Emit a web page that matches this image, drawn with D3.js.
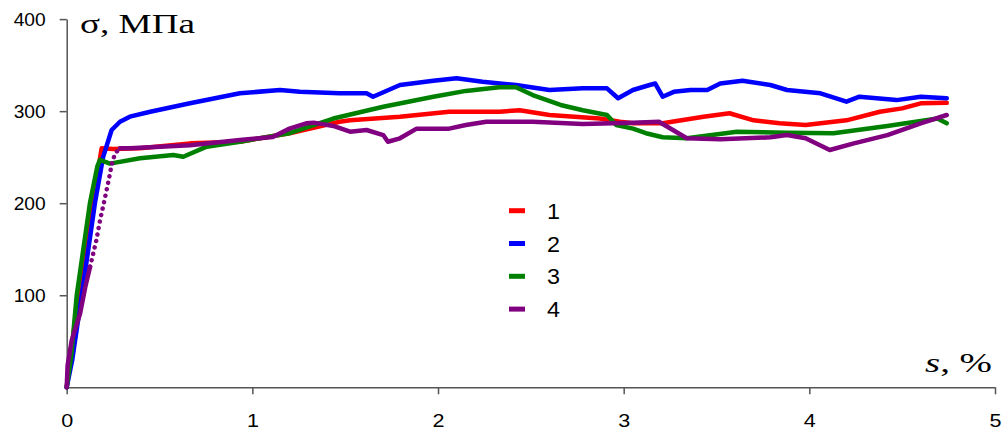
<!DOCTYPE html>
<html><head><meta charset="utf-8">
<script src="https://cdn.jsdelivr.net/npm/d3@7"></script>
<style>html,body{margin:0;padding:0;background:#fff;}svg{display:block;}</style>
</head><body>
<script>
// ---- data ----
const xTicks = [0, 1, 2, 3, 4, 5];
const yTicks = [100, 200, 300, 400];
const seriesNames = ["1", "2", "3", "4"];
const seriesColors = ["#ff0000", "#0000ff", "#008000", "#800080"];

const strain1 = [0, 0.02, 0.061, 0.142, 0.188, 0.25, 0.395, 0.664, 0.933, 1.2, 1.47, 1.526, 1.795, 2.06, 2.33, 2.44, 2.6, 2.87, 2.98, 3.05, 3.21, 3.43, 3.57, 3.7, 3.84, 3.98, 4.2, 4.38, 4.5, 4.6, 4.74];
const stress1 = [0, 30, 100, 200, 259.6, 259, 259.6, 265, 266.8, 276, 288.5, 290, 294, 299.4, 299.4, 301, 295.8, 292, 288.5, 286.8, 286.8, 294, 297.7, 290, 286.8, 285, 290, 299.4, 303, 308.5, 309];

const strain2 = [0, 0.03, 0.081, 0.152, 0.196, 0.242, 0.287, 0.34, 0.45, 0.664, 0.933, 1.149, 1.256, 1.47, 1.615, 1.65, 1.795, 1.975, 2.1, 2.24, 2.42, 2.6, 2.78, 2.91, 2.97, 3.05, 3.14, 3.17, 3.21, 3.27, 3.36, 3.45, 3.52, 3.64, 3.79, 3.88, 4.06, 4.2, 4.27, 4.47, 4.6, 4.74];
const stress2 = [0, 30, 100, 200, 250, 279.5, 288.5, 294, 299.4, 308.5, 319.4, 323, 321, 319.4, 319.4, 315.7, 328.4, 333, 335.7, 332, 328.4, 323, 324.8, 324.8, 314, 323, 328.4, 330, 315.7, 321, 323, 323, 330, 333, 328.4, 323, 319.4, 310.3, 315.7, 312, 315.7, 314];

const strain3 = [0, 0.025, 0.054, 0.125, 0.165, 0.179, 0.233, 0.395, 0.574, 0.628, 0.754, 0.933, 1.2, 1.436, 1.705, 1.975, 2.15, 2.33, 2.42, 2.51, 2.66, 2.78, 2.91, 2.96, 3.05, 3.12, 3.21, 3.34, 3.61, 3.88, 4.13, 4.42, 4.69, 4.74];
const stress3 = [0, 35, 100, 200, 240, 247, 243, 248.8, 252.4, 250.5, 261.4, 266.8, 276, 292, 304.8, 315.7, 322, 326, 326, 317.5, 306.7, 301, 295.8, 285, 281, 276, 271.6, 270.5, 277.7, 276.6, 276, 283.9, 292, 286.8];

const strain4 = [0, 0.005, 0.027, 0.072, 0.1, 0.126, 0.16, 0.18, 0.2, 0.224, 0.242, 0.26, 0.287, 0.34, 0.664, 0.933, 1.11, 1.2, 1.29, 1.33, 1.436, 1.526, 1.615, 1.705, 1.73, 1.795, 1.885, 2.06, 2.15, 2.26, 2.51, 2.78, 3.05, 3.19, 3.34, 3.52, 3.79, 3.88, 3.98, 4.11, 4.24, 4.42, 4.6, 4.74];
const stress4 = [0, 24, 51, 80, 109, 131, 160, 182, 200, 223, 241.5, 254, 259.6, 259.6, 263, 268.6, 272, 281, 286.8, 287.5, 283.9, 277.7, 279.5, 274, 266.8, 270.5, 281, 281, 285, 288.5, 288.5, 286, 287.5, 288.5, 270.5, 269.4, 271.6, 274, 270.5, 257.8, 265, 274, 286.8, 295.8];

const strains = [strain1, strain2, strain3, strain4];
const stresses = [stress1, stress2, stress3, stress4];
// dotted (sparse point) stretch of series 4 during the elastic rise
const dottedRange4 = [0.126, 0.287];

// ---- drawing ----
const W = 1005, H = 434;
const svg = d3.select("body").append("svg").attr("width", W).attr("height", H);

const x = d3.scaleLinear().domain([0, 5]).range([66.7, 995]);
const y = d3.scaleLinear().domain([0, 400]).range([387.3, 19.1]);
const axisColor = "#555";

// y axis
const yAxis = svg.append("g").attr("transform", `translate(${x(0)},0)`)
  .call(d3.axisLeft(y).tickValues(yTicks).tickSize(7).tickSizeOuter(0).tickFormat(d3.format("d")));
yAxis.select(".domain").attr("stroke", axisColor).attr("stroke-width", 1.5);
yAxis.selectAll(".tick line").attr("stroke", axisColor).attr("stroke-width", 1.5);
yAxis.selectAll(".tick text")
  .attr("x", -21).attr("dy", "0.36em")
  .attr("font-family", "Liberation Sans, Arial, sans-serif").attr("font-size", 18)
  .attr("fill", "#000")
  .attr("textLength", 32).attr("lengthAdjust", "spacingAndGlyphs");

// x axis
const xAxis = svg.append("g").attr("transform", `translate(0,${y(0)})`)
  .call(d3.axisBottom(x).tickValues(xTicks).tickSize(7).tickSizeOuter(0).tickFormat(d3.format("d")));
xAxis.select(".domain").attr("stroke", axisColor).attr("stroke-width", 1.5);
xAxis.selectAll(".tick line").attr("stroke", axisColor).attr("stroke-width", 1.5);
xAxis.selectAll(".tick text")
  .attr("y", 27).attr("dy", "0.71em")
  .attr("font-family", "Liberation Sans, Arial, sans-serif").attr("font-size", 18)
  .attr("fill", "#000")
  .attr("textLength", 12).attr("lengthAdjust", "spacingAndGlyphs");

// axis titles
svg.append("text").attr("x", 80).attr("y", 33)
  .attr("font-family", "Liberation Serif, Times New Roman, serif").attr("font-size", 27)
  .attr("textLength", 115).attr("lengthAdjust", "spacingAndGlyphs")
  .text("σ, МПа");
const xt = svg.append("text").attr("x", 925).attr("y", 372)
  .attr("font-family", "Liberation Serif, Times New Roman, serif").attr("font-size", 27)
  .attr("textLength", 67).attr("lengthAdjust", "spacingAndGlyphs");
xt.append("tspan").attr("font-style", "italic").text("s");
xt.append("tspan").text(", %");

// curves
const line = d3.line().x(d => x(d[0])).y(d => y(d[1]));
strains.forEach((xs, i) => {
  const pts = xs.map((v, j) => [v, stresses[i][j]]);
  const col = seriesColors[i];
  if (i === 3) {
    const a = pts.filter(p => p[0] <= dottedRange4[0]);
    const b = pts.filter(p => p[0] >= dottedRange4[0] && p[0] <= dottedRange4[1]);
    const c = pts.filter(p => p[0] >= dottedRange4[1]);
    [a, c].forEach(seg => svg.append("path").datum(seg).attr("d", line)
      .attr("fill", "none").attr("stroke", col).attr("stroke-width", 4.5)
      .attr("stroke-linejoin", "round").attr("stroke-linecap", "round"));
    svg.append("path").datum(b).attr("d", line)
      .attr("fill", "none").attr("stroke", col).attr("stroke-width", 4.5)
      .attr("stroke-linecap", "round").attr("stroke-dasharray", "0.1 6.5");
  } else {
    svg.append("path").datum(pts).attr("d", line)
      .attr("fill", "none").attr("stroke", col).attr("stroke-width", 4.5)
      .attr("stroke-linejoin", "round").attr("stroke-linecap", "round");
  }
});

// legend
const leg = svg.append("g");
seriesNames.forEach((name, i) => {
  const cy = 210.7 + i * 32.8;
  leg.append("line").attr("x1", 509).attr("x2", 525).attr("y1", cy).attr("y2", cy)
    .attr("stroke", seriesColors[i]).attr("stroke-width", 5);
  leg.append("text").attr("x", 547).attr("y", cy + 8)
    .attr("font-family", "Liberation Sans, Arial, sans-serif").attr("font-size", 22)
    .attr("textLength", 13).attr("lengthAdjust", "spacingAndGlyphs")
    .text(name);
});
</script>
</body></html>
